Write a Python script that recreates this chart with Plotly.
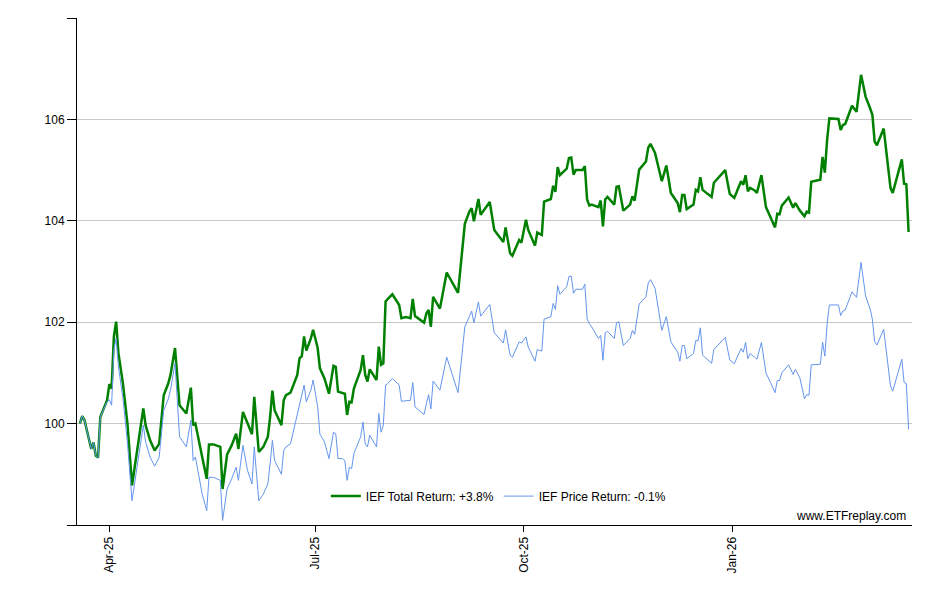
import plotly.graph_objects as go

# IEF one-year replay: total return vs price return (start = 100)
dates = [
    "2025-03-19", "2025-03-20", "2025-03-21", "2025-03-24", "2025-03-25", "2025-03-26",
    "2025-03-27", "2025-03-28", "2025-03-31", "2025-04-01", "2025-04-02", "2025-04-03",
    "2025-04-04", "2025-04-05", "2025-04-07", "2025-04-09", "2025-04-11", "2025-04-13",
    "2025-04-16", "2025-04-17", "2025-04-19", "2025-04-21", "2025-04-23", "2025-04-25",
    "2025-04-27", "2025-04-28", "2025-04-30", "2025-05-02", "2025-05-05", "2025-05-07",
    "2025-05-08", "2025-05-09", "2025-05-11", "2025-05-12", "2025-05-14", "2025-05-15",
    "2025-05-17", "2025-05-20", "2025-05-21", "2025-05-23", "2025-05-25", "2025-05-27",
    "2025-05-28", "2025-05-30", "2025-06-01", "2025-06-03", "2025-06-04", "2025-06-06",
    "2025-06-08", "2025-06-10", "2025-06-11", "2025-06-12", "2025-06-13", "2025-06-16",
    "2025-06-17", "2025-06-18", "2025-06-20", "2025-06-22", "2025-06-23", "2025-06-24",
    "2025-06-25", "2025-06-26", "2025-06-27", "2025-06-29", "2025-06-30", "2025-07-02",
    "2025-07-03", "2025-07-05", "2025-07-07", "2025-07-09", "2025-07-10", "2025-07-11",
    "2025-07-13", "2025-07-14", "2025-07-15", "2025-07-16", "2025-07-17", "2025-07-18",
    "2025-07-21", "2025-07-22", "2025-07-23", "2025-07-24", "2025-07-25", "2025-07-28",
    "2025-07-29", "2025-07-30", "2025-07-31", "2025-08-01", "2025-08-02", "2025-08-04",
    "2025-08-07", "2025-08-08", "2025-08-10", "2025-08-12", "2025-08-13", "2025-08-14",
    "2025-08-15", "2025-08-18", "2025-08-19", "2025-08-20", "2025-08-21", "2025-08-22",
    "2025-08-25", "2025-08-28", "2025-09-02", "2025-09-05", "2025-09-07", "2025-09-08",
    "2025-09-09", "2025-09-11", "2025-09-12", "2025-09-16", "2025-09-18", "2025-09-22",
    "2025-09-23", "2025-09-25", "2025-09-26", "2025-09-29", "2025-09-30", "2025-10-02",
    "2025-10-03", "2025-10-06", "2025-10-07", "2025-10-09", "2025-10-10", "2025-10-13",
    "2025-10-14", "2025-10-15", "2025-10-16", "2025-10-17", "2025-10-20", "2025-10-21",
    "2025-10-22", "2025-10-23", "2025-10-24", "2025-10-27", "2025-10-28", "2025-10-29",
    "2025-10-30", "2025-10-31", "2025-11-03", "2025-11-04", "2025-11-05", "2025-11-06",
    "2025-11-07", "2025-11-10", "2025-11-11", "2025-11-12", "2025-11-14", "2025-11-17",
    "2025-11-18", "2025-11-19", "2025-11-21", "2025-11-24", "2025-11-25", "2025-11-26",
    "2025-11-28", "2025-12-01", "2025-12-03", "2025-12-05", "2025-12-08", "2025-12-09",
    "2025-12-10", "2025-12-11", "2025-12-12", "2025-12-15", "2025-12-16", "2025-12-17",
    "2025-12-18", "2025-12-19", "2025-12-23", "2025-12-24", "2025-12-29", "2025-12-31",
    "2026-01-02", "2026-01-05", "2026-01-06", "2026-01-07", "2026-01-08", "2026-01-09",
    "2026-01-11", "2026-01-12", "2026-01-14", "2026-01-16", "2026-01-18", "2026-01-20",
    "2026-01-21", "2026-01-22", "2026-01-23", "2026-01-26", "2026-01-28", "2026-01-29",
    "2026-01-31", "2026-02-02", "2026-02-03", "2026-02-04", "2026-02-05", "2026-02-09",
    "2026-02-10", "2026-02-11", "2026-02-12", "2026-02-13", "2026-02-17", "2026-02-18",
    "2026-02-19", "2026-02-20", "2026-02-23", "2026-02-25", "2026-02-27", "2026-03-01",
    "2026-03-03", "2026-03-04", "2026-03-05", "2026-03-06", "2026-03-09", "2026-03-12",
    "2026-03-13", "2026-03-17", "2026-03-18", "2026-03-19", "2026-03-20",
]

total_return = [
    100.00, 100.15, 100.07, 99.50, 99.63, 99.37,
    99.33, 100.13, 100.46, 100.78, 100.69, 101.72,
    102.01, 101.39, 100.79, 100.00, 98.78, 99.41,
    100.30, 99.97, 99.67, 99.47, 99.60, 100.56,
    100.79, 100.96, 101.49, 100.36, 100.20, 100.71,
    99.97, 100.00, 99.60, 99.34, 98.91, 99.59,
    99.59, 99.54, 98.71, 99.39, 99.57, 99.80,
    99.50, 100.23, 100.01, 99.79, 100.53, 99.44,
    99.54, 99.74, 100.13, 100.65, 100.26, 99.97,
    100.46, 100.56, 100.61, 100.86, 100.96, 101.29,
    101.33, 101.72, 101.44, 101.68, 101.85, 101.49,
    101.09, 100.89, 100.59, 101.14, 101.12, 100.63,
    100.61, 100.59, 100.17, 100.43, 100.42, 100.69,
    101.06, 101.35, 100.96, 100.83, 101.07, 100.86,
    101.52, 101.16, 101.19, 102.41, 102.46, 102.55,
    102.34, 102.08, 102.10, 102.08, 102.46, 102.12,
    102.09, 101.99, 102.17, 102.24, 101.91, 102.50,
    102.27, 102.98, 102.58, 103.94, 104.18, 104.25,
    103.99, 104.43, 104.12, 104.37, 103.82, 103.58,
    103.87, 103.36, 103.31, 103.62, 103.57, 104.02,
    103.82, 103.51, 103.77, 103.72, 104.38, 104.43,
    104.69, 104.57, 105.06, 104.90, 105.03, 105.24,
    105.25, 104.91, 105.00, 105.00, 105.08, 104.42,
    104.30, 104.32, 104.27, 104.40, 103.89, 104.42,
    104.47, 104.32, 104.67, 104.68, 104.20, 104.32,
    104.48, 104.40, 105.01, 105.17, 105.44, 105.52,
    105.34, 104.78, 105.09, 104.55, 104.35, 104.17,
    104.51, 104.51, 104.23, 104.32, 104.61, 104.58,
    104.86, 104.61, 104.47, 104.75, 105.00, 104.53,
    104.45, 104.78, 104.71, 104.90, 104.58, 104.65,
    104.60, 104.55, 104.90, 104.27, 104.07, 103.87,
    104.14, 104.13, 104.30, 104.46, 104.26, 104.35,
    104.20, 104.09, 104.18, 104.16, 104.77, 104.81,
    105.26, 104.95, 105.59, 106.02, 106.01, 105.79,
    105.89, 105.91, 106.27, 106.15, 106.88, 106.45,
    106.22, 106.09, 105.56, 105.49, 105.82, 104.65,
    104.55, 105.21, 104.73, 104.72, 103.78,
]

price_return = [
    100.00, 100.15, 100.07, 99.50, 99.63, 99.37,
    99.33, 100.13, 100.43, 100.47, 100.36, 101.45,
    101.68, 101.12, 100.50, 99.62, 98.48, 99.08,
    99.97, 99.64, 99.34, 99.16, 99.34, 100.26,
    100.48, 100.66, 101.19, 99.74, 99.54, 100.07,
    99.27, 99.34, 98.88, 98.61, 98.28, 98.94,
    98.94, 98.88, 98.09, 98.71, 98.91, 99.14,
    98.88, 99.57, 99.08, 98.81, 99.54, 98.48,
    98.61, 98.81, 99.21, 99.67, 99.27, 99.00,
    99.47, 99.54, 99.60, 99.97, 100.20, 100.36,
    100.53, 100.76, 100.43, 100.66, 100.86, 100.33,
    99.79, 99.64, 99.31, 99.83, 99.80, 99.31,
    99.31, 99.27, 98.88, 99.14, 99.11, 99.41,
    99.74, 100.03, 99.60, 99.54, 99.77, 99.54,
    100.20, 99.83, 99.97, 100.76, 100.79, 100.89,
    100.76, 100.44, 100.45, 100.46, 100.81, 100.33,
    100.29, 100.18, 100.39, 100.57, 100.29, 100.84,
    100.66, 101.31, 100.61, 101.91, 102.11, 102.22,
    101.99, 102.40, 102.12, 102.35, 101.79, 101.59,
    101.85, 101.35, 101.31, 101.61, 101.59, 101.71,
    101.51, 101.23, 101.46, 101.43, 102.06, 102.11,
    102.37, 102.25, 102.72, 102.55, 102.70, 102.90,
    102.91, 102.57, 102.65, 102.65, 102.75, 102.07,
    101.97, 101.91, 101.68, 101.74, 101.25, 101.79,
    101.82, 101.68, 101.99, 102.01, 101.54, 101.68,
    101.84, 101.76, 102.36, 102.50, 102.77, 102.84,
    102.67, 101.84, 102.11, 101.61, 101.41, 101.23,
    101.54, 101.54, 101.28, 101.38, 101.64, 101.63,
    101.89, 101.35, 101.19, 101.46, 101.70, 101.26,
    101.18, 101.48, 101.41, 101.60, 101.28, 101.38,
    101.31, 101.27, 101.60, 101.00, 100.81, 100.61,
    100.85, 100.85, 101.00, 101.16, 100.97, 101.07,
    100.90, 100.49, 100.57, 100.56, 101.16, 101.17,
    101.61, 101.33, 101.96, 102.34, 102.34, 102.13,
    102.22, 102.24, 102.60, 102.49, 103.18, 102.52,
    102.26, 102.06, 101.62, 101.55, 101.86, 100.74,
    100.64, 101.27, 100.81, 100.79, 99.89,
]

tick_dates = ["2025-04-01", "2025-07-01", "2025-10-01", "2026-01-01"]
tick_labels = ["Apr-25", "Jul-25", "Oct-25", "Jan-26"]
y_ticks = [98, 100, 102, 104, 106, 108]
y_labels = ["", "100", "102", "104", "106", ""]

font = "Arial, Liberation Sans, sans-serif"

fig = go.Figure()
fig.add_trace(go.Scatter(x=dates, y=total_return, mode="lines",
                         name="IEF Total Return: +3.8%",
                         line=dict(color="#008000", width=2.5)))
fig.add_trace(go.Scatter(x=dates, y=price_return, mode="lines",
                         name="IEF Price Return: -0.1%",
                         line=dict(color="#6495ED", width=1)))

# page body has an 8px margin, so the figure is a bit smaller than the window
fig.update_layout(
    width=924, height=584,
    margin=dict(l=69, r=20, t=10, b=67, autoexpand=False),
    paper_bgcolor="white", plot_bgcolor="white",
    font=dict(family=font, size=12, color="black"),
    showlegend=True,
    legend=dict(orientation="h", x=0.298, xanchor="left", y=0.057, yanchor="middle",
                bgcolor="rgba(0,0,0,0)", font=dict(size=12), itemwidth=30,
                tracegroupgap=0),
    annotations=[dict(text="www.ETFreplay.com", xref="paper", yref="paper",
                      x=0.995, y=0.018, xanchor="right", yanchor="middle",
                      showarrow=False, font=dict(size=12, color="black"))],
)

fig.update_xaxes(
    type="date", range=["2025-03-17 17:00", "2026-03-21 12:00"],
    tickvals=tick_dates, ticktext=tick_labels, tickangle=-90,
    ticks="outside", ticklen=6, tickcolor="black",
    showline=True, linecolor="black", linewidth=1,
    showgrid=False, zeroline=False, tickfont=dict(size=12), automargin=False,
)
fig.update_yaxes(
    range=[98, 108], tickvals=y_ticks, ticktext=y_labels,
    ticks="outside", ticklen=9, tickcolor="black",
    showline=True, linecolor="black", linewidth=1,
    showgrid=True, gridcolor="#c8c8c8", gridwidth=1,
    zeroline=False, tickfont=dict(size=12), automargin=False,
)

fig.write_html("out.html")
